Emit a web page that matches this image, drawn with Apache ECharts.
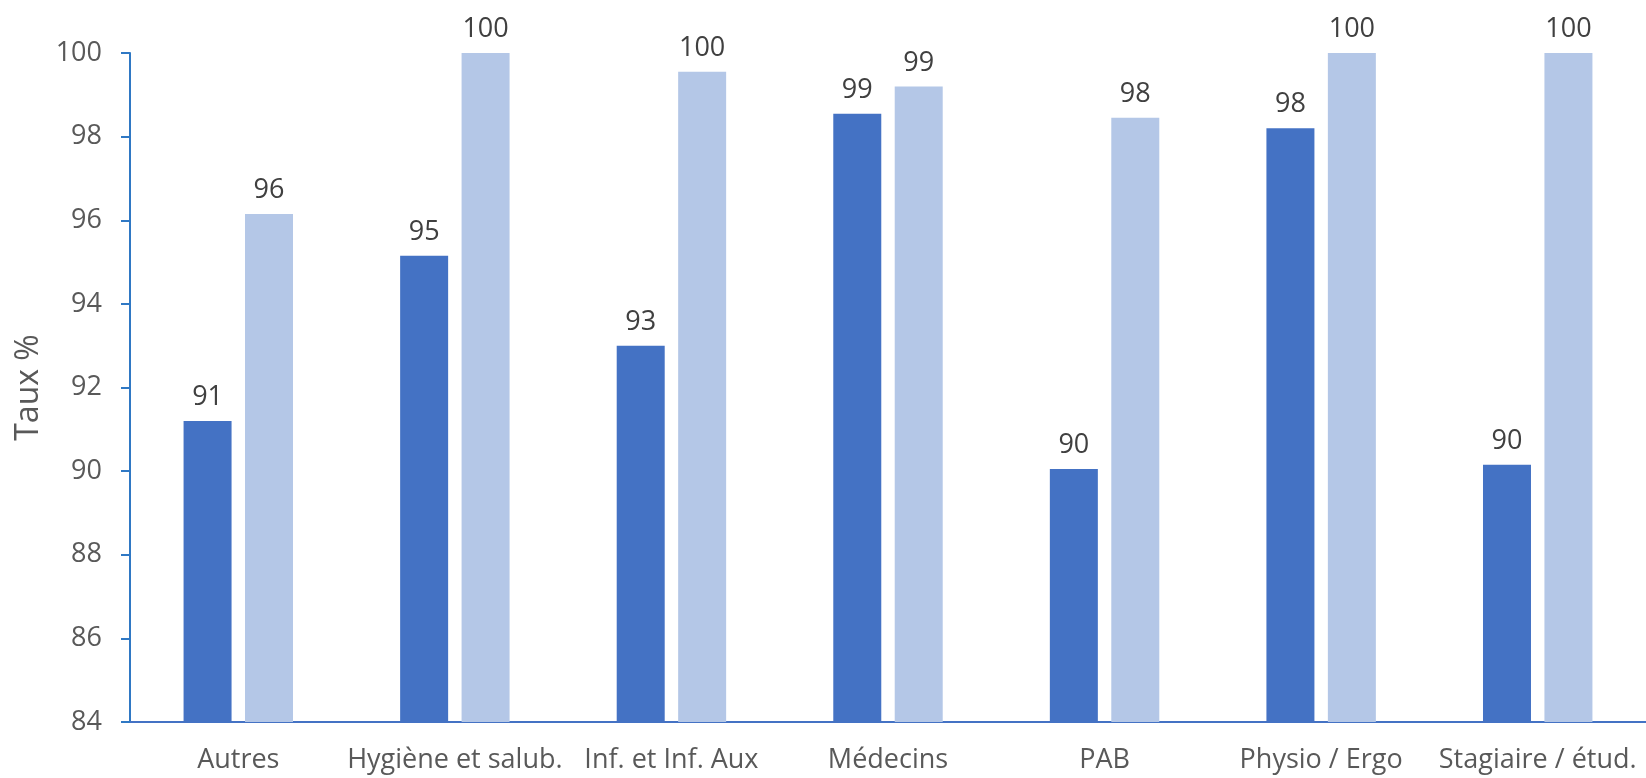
<!DOCTYPE html>
<html>
<head>
<meta charset="utf-8">
<script src="https://cdn.jsdelivr.net/npm/echarts@6/dist/echarts.min.js"></script>
<style>
html,body{margin:0;padding:0;background:#fff;}
#chart{width:1646px;height:778px;}
</style>
</head>
<body>
<div id="chart"></div>
<script>
const categories = ['Autres', 'Hygiène et salub.', 'Inf. et Inf. Aux', 'Médecins', 'PAB', 'Physio / Ergo', 'Stagiaire / étud.'];
const seriesDark = [91.2, 95.15, 93.0, 98.55, 90.05, 98.2, 90.15];
const seriesLight = [96.15, 100, 99.55, 99.2, 98.45, 100, 100];
const yTitle = 'Taux %';

const chart = echarts.init(document.getElementById('chart'));
const font = '"Open Sans", "Noto Sans", sans-serif';
const labelCfg = {
  show: true,
  position: 'top',
  distance: 10,
  color: '#404040',
  fontSize: 27,
  fontFamily: font,
  formatter: p => Math.round(p.value)
};
chart.setOption({
  animation: false,
  backgroundColor: '#ffffff',
  grid: { left: 130, top: 53, width: 1524, bottom: 56, containLabel: false },
  xAxis: {
    type: 'category',
    data: categories,
    axisLine: { show: true, lineStyle: { color: '#4472C4', width: 2 } },
    axisTick: { show: false },
    axisLabel: { color: '#595959', fontSize: 27, fontFamily: font, margin: 25, interval: 0 },
    splitLine: { show: false }
  },
  yAxis: {
    type: 'value',
    min: 84,
    max: 100,
    interval: 2,
    name: yTitle,
    nameLocation: 'middle',
    nameGap: 82,
    nameTextStyle: { color: '#595959', fontSize: 32, fontFamily: font },
    axisLine: { show: true, lineStyle: { color: '#2F78C4', width: 2 } },
    axisTick: { show: true, inside: false, length: 9, lineStyle: { color: '#2F78C4', width: 2 } },
    axisLabel: { color: '#595959', fontSize: 27, fontFamily: font, margin: 28 },
    splitLine: { show: false }
  },
  series: [
    { type: 'bar', data: seriesDark, barWidth: 48, barGap: '28%', itemStyle: { color: '#4472C4' }, label: labelCfg },
    { type: 'bar', data: seriesLight, barWidth: 48, itemStyle: { color: '#B4C7E7' }, label: labelCfg }
  ]
});
</script>
</body>
</html>
